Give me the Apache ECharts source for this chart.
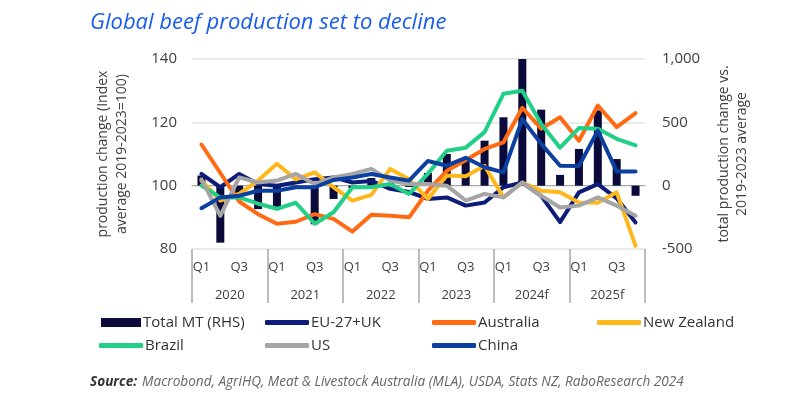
<!DOCTYPE html>
<html>
<head>
<meta charset="utf-8">
<script src="https://cdn.jsdelivr.net/npm/echarts@6/dist/echarts.min.js"></script>
<style>
html,body{margin:0;padding:0;background:#fff;}
#c{width:800px;height:400px;}
</style>
</head>
<body>
<div id="c"></div>
<script>
const quarterLabels = ['Q1','Q2','Q3','Q4','Q1','Q2','Q3','Q4','Q1','Q2','Q3','Q4','Q1','Q2','Q3','Q4','Q1','Q2','Q3','Q4','Q1','Q2','Q3','Q4'];
const yearLabels = ['2020','2021','2022','2023','2024f','2025f'];
const totalMT = [80, -450, -70, -185, -170, -20, -305, -105, -20, 60, 20, -10, 100, 250, 200, 355, 540, 1000, 600, 85, 290, 595, 210, -80];
const euUK = [103.7, 99.5, 103.7, 100.5, 100, 101, 102, 102.6, 101, 101.5, 99, 98, 95.8, 96.3, 93.7, 94.7, 99.5, 101, 96.8, 88.5, 97.9, 100.5, 96, 88.4];
const australia = [113, 104, 95, 91, 88, 88.6, 91, 89.5, 85.5, 90.8, 90.5, 90, 98.4, 104.7, 108, 111.6, 113.7, 124.6, 118, 121.6, 114.2, 125.3, 118.5, 122.9];
const newZealand = [101.6, 95.3, 97.4, 101.6, 106.9, 102, 104.2, 99.5, 95.3, 97.1, 105.3, 102, 95.8, 103.2, 103, 106.3, 96.3, 101, 98.4, 97.9, 94.7, 94.6, 97.9, 81];
const brazil = [100, 96.3, 96.3, 94.3, 92.7, 94.6, 88, 91.6, 99.5, 99.5, 100.5, 97.4, 103.8, 111, 112, 116.9, 129, 130, 119.5, 112, 118.2, 118, 114.8, 112.7];
const us = [102, 90.5, 102.6, 101, 101.6, 103.7, 100.5, 102.6, 103.7, 105.3, 101.6, 100.5, 100.5, 100, 95.3, 97.4, 96.3, 101, 96.8, 93.1, 93.7, 96.3, 93.7, 90.5];
const china = [92.9, 96.3, 96.8, 98.4, 98.4, 99.5, 99.5, 101.8, 102.6, 103.7, 102.6, 101.6, 107.8, 106.3, 108.8, 105.8, 104.2, 121, 113.2, 106.3, 106.2, 117.4, 104.5, 104.5];
const leftTicks = {min: 80, max: 140, interval: 20};
const rightTicks = {min: -500, max: 1000, interval: 500};

const FONT = '"Open Sans", "Noto Sans", sans-serif';
const TXT = '#404040';
const AXIS = '#a6a6a6';

const colors = {
  total: '#0b0b3b',
  eu: '#0c1c78',
  au: '#ff6a13',
  nz: '#ffb81c',
  br: '#22cf86',
  us: '#a5a5a5',
  cn: '#0c40a0'
};

function lineSeries(name, data, color, z) {
  return {
    name: name, type: 'line', data: data, yAxisIndex: 0, xAxisIndex: 0,
    symbol: 'none', z: z,
    lineStyle: {width: 4, color: color, cap: 'round', join: 'round'},
    itemStyle: {color: color}
  };
}

function leg(name, left, top, icon, w, h) {
  return {
    data: [{name: name, icon: icon}],
    left: left, top: top, itemWidth: w, itemHeight: h, itemGap: 0,
    padding: 0,
    textStyle: {fontFamily: FONT, fontSize: 15, color: '#333', padding: [0,0,0,-3]},
    selectedMode: false
  };
}

const chart = echarts.init(document.getElementById('c'), null, {renderer: 'canvas'});
chart.setOption({
  animation: false,
  backgroundColor: '#fff',
  title: [{
    text: 'Global beef production set to decline',
    left: 85, top: 7,
    textStyle: {fontFamily: FONT, fontStyle: 'italic', fontWeight: 'normal', fontSize: 22, color: '#1a5cf0'}
  }, {
    text: '{b|Source:} {n|Macrobond, AgriHQ, Meat & Livestock Australia (MLA), USDA, Stats NZ, RaboResearch 2024}',
    left: 85, top: 368,
    textStyle: {
      fontWeight: 'normal',
      rich: {
        b: {fontFamily: FONT, fontStyle: 'italic', fontWeight: 'bold', fontSize: 13.6, color: '#333'},
        n: {fontFamily: FONT, fontStyle: 'italic', fontWeight: 'normal', fontSize: 13.6, color: '#666'}
      }
    }
  }],
  grid: {left: 192, right: 155, top: 59, bottom: 151, containLabel: false},
  legend: [
    leg('Total MT (RHS)', 101, 315, 'rect', 40, 9),
    leg('EU-27+UK', 265, 315, 'roundRect', 44, 5),
    leg('Australia', 432, 315, 'roundRect', 44, 5),
    leg('New Zealand', 597, 315, 'roundRect', 44, 5),
    leg('Brazil', 99, 338, 'roundRect', 44, 5),
    leg('US', 265, 338, 'roundRect', 44, 5),
    leg('China', 432, 338, 'roundRect', 44, 5)
  ],
  xAxis: [{
    type: 'category', data: quarterLabels, position: 'bottom', boundaryGap: true,
    axisLine: {show: true, lineStyle: {color: AXIS, width: 1}},
    axisTick: {show: false},
    axisLabel: {
      interval: 0, margin: 12, fontFamily: FONT, fontSize: 13, color: TXT,
      formatter: function (v, i) { return (i % 4 === 0 || i % 4 === 2) ? v : ''; }
    },
    splitLine: {show: false}
  }, {
    type: 'category', data: yearLabels, position: 'bottom', boundaryGap: true,
    axisLine: {show: false},
    axisTick: {show: true, length: 54, lineStyle: {color: AXIS, width: 1.5}},
    axisLabel: {margin: 40, fontFamily: FONT, fontSize: 13, color: TXT},
    splitLine: {show: false}
  }],
  yAxis: [{
    type: 'value', position: 'left', min: leftTicks.min, max: leftTicks.max, interval: leftTicks.interval,
    name: 'production change (Index\naverage 2019-2023=100)',
    nameLocation: 'middle', nameGap: 60, nameRotate: 90,
    nameTextStyle: {fontFamily: FONT, fontSize: 14, color: TXT, lineHeight: 19},
    axisLine: {show: false}, axisTick: {show: false},
    axisLabel: {margin: 15, fontFamily: FONT, fontSize: 15, color: TXT},
    splitLine: {show: true, lineStyle: {color: '#e3e3e3', width: 1.5}}
  }, {
    type: 'value', position: 'right', min: rightTicks.min, max: rightTicks.max, interval: rightTicks.interval,
    name: 'total production change vs.\n2019-2023 average',
    nameLocation: 'middle', nameGap: 70, nameRotate: 90,
    nameTextStyle: {fontFamily: FONT, fontSize: 14, color: TXT, lineHeight: 18},
    axisLine: {show: false}, axisTick: {show: false},
    axisLabel: {
      margin: 17, fontFamily: FONT, fontSize: 15, color: TXT,
      formatter: function (v) { return v.toLocaleString('en-US'); }
    },
    splitLine: {show: false}
  }],
  series: [
    {
      name: 'Total MT (RHS)', type: 'bar', data: totalMT, yAxisIndex: 1, xAxisIndex: 0,
      barWidth: 8, z: 1,
      itemStyle: {color: colors.total}
    },
    lineSeries('EU-27+UK', euUK, colors.eu, 3),
    lineSeries('Australia', australia, colors.au, 3),
    lineSeries('New Zealand', newZealand, colors.nz, 3),
    lineSeries('Brazil', brazil, colors.br, 3),
    lineSeries('US', us, colors.us, 3),
    lineSeries('China', china, colors.cn, 3)
  ]
});
</script>
</body>
</html>
